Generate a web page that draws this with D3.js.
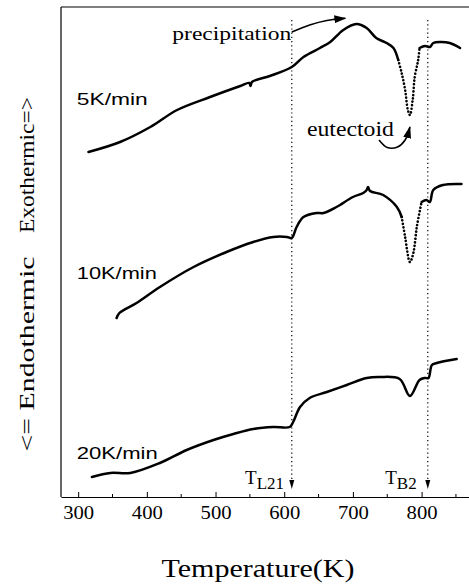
<!DOCTYPE html>
<html>
<head>
<meta charset="utf-8">
<script src="https://cdn.jsdelivr.net/npm/d3@7"></script>
<style>
  body { margin: 0; background: #fff; }
  text { -webkit-font-smoothing: antialiased; }
</style>
</head>
<body>
<svg id="chart" width="469" height="588"></svg>
<script>
// DSC traces, heat flow in arbitrary units
const rates = ['5K/min', '10K/min', '20K/min'];

const temp5 = [315, 361, 405, 444, 492, 536, 549, 551, 553, 579, 611, 628, 652, 667, 686, 705, 720, 734, 749, 759, 766, 771, 776, 780, 783, 787, 790, 795, 797, 805, 812, 817, 827, 841, 856];
const flow5 = [345, 355, 370, 387, 400, 411, 414, 411, 415, 421, 430, 440, 449, 455, 467, 473, 469, 459, 454, 449, 437, 424, 407, 387, 382, 397, 420, 437, 449, 451, 450, 454, 455, 454, 449];

const temp10 = [356, 360, 385, 419, 468, 516, 555, 584, 604, 611, 618, 628, 647, 657, 676, 700, 715, 720, 722, 725, 744, 764, 771, 776, 783, 788, 793, 800, 807, 812, 817, 831, 858];
const flow10 = [179, 184, 194, 210, 230, 245, 255, 260, 260, 259, 270, 280, 284, 284, 290, 300, 304, 307, 310, 306, 302, 290, 280, 260, 235, 244, 270, 295, 297, 295, 307, 312, 313];

const temp20 = [320, 347, 376, 419, 458, 497, 526, 555, 584, 608, 613, 623, 637, 662, 691, 720, 739, 768, 783, 797, 805, 810, 815, 822, 851];
const flow20 = [20, 24, 24, 34, 47, 57, 63, 68, 70, 70, 75, 90, 99, 105, 112, 119, 120, 118, 101, 117, 119, 119, 132, 134, 138];

const xTicks = [300, 400, 500, 600, 700, 800];
const xMinor = [350, 450, 550, 650, 750, 850];
const markerTemps = [611, 809];
const markerNames = ['L21', 'B2'];

const width = 469, height = 588;
const svg = d3.select('#chart');

const x = d3.scaleLinear().domain([275, 869]).range([61, 469]);
const y = d3.scaleLinear().domain([0, 490]).range([497, 7]);

const serif = '"Liberation Serif", "Times New Roman", serif';
const sans = '"Liberation Sans", Arial, sans-serif';

// arrow heads
const defs = svg.append('defs');
defs.append('marker')
  .attr('id', 'head')
  .attr('viewBox', '0 0 12 8')
  .attr('refX', 11).attr('refY', 4)
  .attr('markerWidth', 12).attr('markerHeight', 8)
  .attr('markerUnits', 'userSpaceOnUse')
  .attr('orient', 'auto')
  .append('path').attr('d', 'M0,0 L12,4 L0,8 Z').attr('fill', '#000');

// frame
svg.append('line').attr('x1', 61).attr('x2', 61).attr('y1', 7).attr('y2', 497)
  .attr('stroke', '#000').attr('stroke-width', 1.2);
svg.append('line').attr('x1', 61).attr('x2', width).attr('y1', 7).attr('y2', 7)
  .attr('stroke', '#000').attr('stroke-width', 1.2);

// x axis
const xAxis = d3.axisBottom(x).tickValues(xTicks).tickSize(-5).tickSizeOuter(0)
  .tickFormat(d3.format('d'));
const gx = svg.append('g').attr('transform', 'translate(0,497)').call(xAxis);
gx.select('.domain').attr('stroke-width', 1.2);
gx.selectAll('.tick line').attr('stroke-width', 1);
gx.selectAll('.tick text')
  .attr('y', 22).attr('dy', 0)
  .attr('font-family', serif).attr('font-size', 18)
  .attr('textLength', 31).attr('lengthAdjust', 'spacingAndGlyphs')
  .attr('fill', '#000');

svg.append('g').selectAll('line').data(xMinor).join('line')
  .attr('x1', d => x(d)).attr('x2', d => x(d))
  .attr('y1', 497).attr('y2', 494)
  .attr('stroke', '#000');

// traces
const line = d3.line()
  .x(d => x(d[0])).y(d => y(d[1]))
  .curve(d3.curveCatmullRom.alpha(0.5));

// steep eutectoid dips are printed as sparse dots
const series = [
  { t: temp5, v: flow5, dip: [766, 797] },
  { t: temp10, v: flow10, dip: [771, 800] },
  { t: temp20, v: flow20, dip: null }
];

series.forEach(s => {
  const pts = d3.zip(s.t, s.v);
  let parts;
  if (s.dip) {
    parts = [
      { p: pts.filter(d => d[0] <= s.dip[0]), dash: null },
      { p: pts.filter(d => d[0] >= s.dip[0] && d[0] <= s.dip[1]), dash: '0.1,3.4' },
      { p: pts.filter(d => d[0] >= s.dip[1]), dash: null }
    ];
  } else {
    parts = [{ p: pts, dash: null }];
  }
  parts.forEach(part => {
    svg.append('path')
      .attr('d', line(part.p))
      .attr('fill', 'none')
      .attr('stroke', '#000')
      .attr('stroke-width', part.dash ? 2.6 : 2.5)
      .attr('stroke-linejoin', 'round')
      .attr('stroke-linecap', 'round')
      .attr('stroke-dasharray', part.dash);
  });
});

// transition markers
markerTemps.forEach(t => {
  svg.append('line')
    .attr('x1', x(t)).attr('x2', x(t))
    .attr('y1', y(477)).attr('y2', y(16))
    .attr('stroke', '#000').attr('stroke-width', 1.2)
    .attr('stroke-dasharray', '1.2,3');
  svg.append('path')
    .attr('d', `M${x(t) - 2.5},${y(17)} L${x(t) + 2.5},${y(17)} L${x(t)},${y(8)} Z`)
    .attr('fill', '#000');
});

const labelX = [543, 747];
markerNames.forEach((name, i) => {
  const tt = svg.append('text').attr('font-family', serif).attr('fill', '#000')
    .attr('x', x(labelX[i])).attr('y', y(13));
  tt.append('tspan').attr('font-size', 19).text('T');
  tt.append('tspan').attr('font-size', 17).attr('dy', 5).text(name);
});

// rate labels
const rateY = [392, 218, 38];
const rateLen = [71, 80, 81];
svg.append('g').selectAll('text').data(rates).join('text')
  .attr('x', x(298))
  .attr('y', (d, i) => y(rateY[i]))
  .attr('font-family', sans).attr('font-size', 17)
  .attr('textLength', (d, i) => rateLen[i]).attr('lengthAdjust', 'spacingAndGlyphs')
  .text(d => d);

// annotations
svg.append('text').attr('x', x(437)).attr('y', y(457))
  .attr('font-family', serif).attr('font-size', 19)
  .attr('textLength', 119).attr('lengthAdjust', 'spacingAndGlyphs')
  .text('precipitation');
svg.append('path')
  .attr('d', d3.line().curve(d3.curveCatmullRom)
    .x(d => x(d[0])).y(d => y(d[1]))([[611, 465], [637, 472], [662, 476.5], [689, 478.7]]))
  .attr('fill', 'none').attr('stroke', '#000').attr('stroke-width', 1.6)
  .attr('marker-end', 'url(#head)');

svg.append('text').attr('x', x(633)).attr('y', y(361))
  .attr('font-family', serif).attr('font-size', 20)
  .attr('textLength', 87).attr('lengthAdjust', 'spacingAndGlyphs')
  .text('eutectoid');
svg.append('path')
  .attr('d', d3.line().curve(d3.curveCatmullRom)
    .x(d => x(d[0])).y(d => y(d[1]))([[738, 357], [750, 349.5], [765, 350], [776, 357], [783, 370]]))
  .attr('fill', 'none').attr('stroke', '#000').attr('stroke-width', 1.6)
  .attr('marker-end', 'url(#head)');

// axis titles
svg.append('text')
  .attr('x', 258).attr('y', 577)
  .attr('text-anchor', 'middle')
  .attr('font-family', serif).attr('font-size', 25)
  .attr('textLength', 193).attr('lengthAdjust', 'spacingAndGlyphs')
  .text('Temperature(K)');

svg.append('text')
  .attr('transform', 'translate(33.5,354) rotate(-90)')
  .attr('text-anchor', 'middle')
  .attr('font-family', serif).attr('font-size', 20).attr('fill', '#000')
  .attr('textLength', 195).attr('lengthAdjust', 'spacingAndGlyphs')
  .text('<= Endothermic');
svg.append('text')
  .attr('transform', 'translate(33.5,165) rotate(-90)')
  .attr('text-anchor', 'middle')
  .attr('font-family', serif).attr('font-size', 20).attr('fill', '#000')
  .attr('textLength', 136).attr('lengthAdjust', 'spacingAndGlyphs')
  .text('Exothermic=>');
</script>
</body>
</html>
